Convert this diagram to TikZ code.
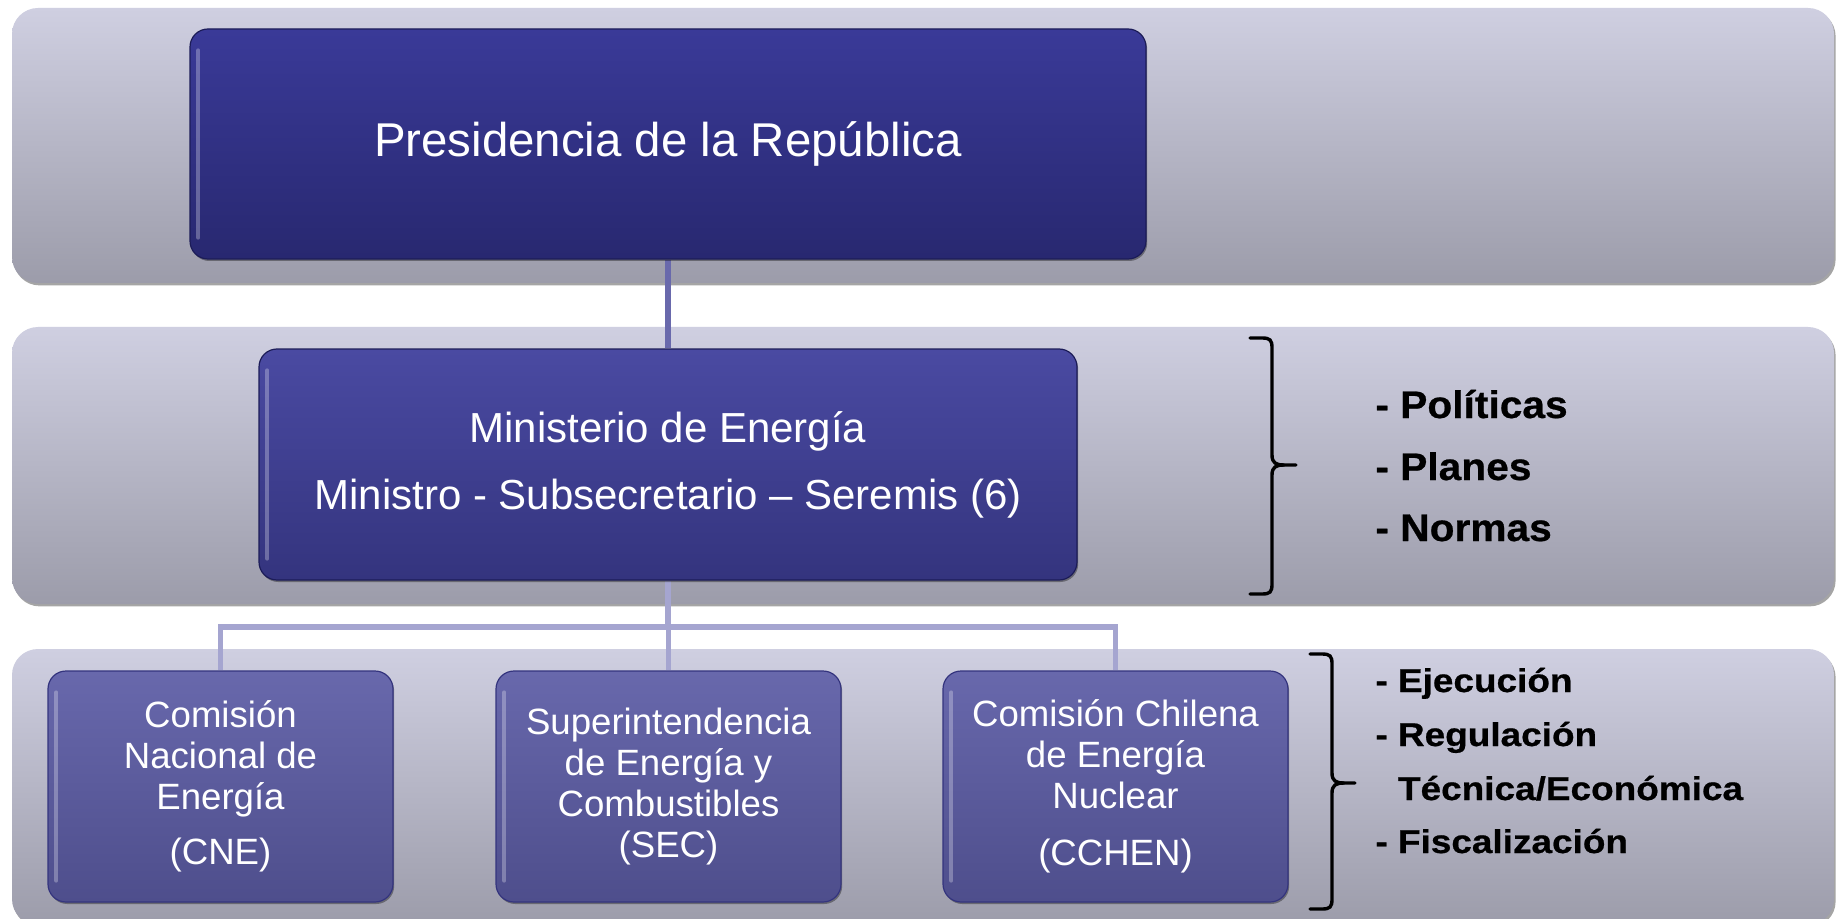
\documentclass[tikz,border=0pt]{standalone}
\usepackage{fontspec}
\setmainfont{Liberation Sans}
\newfontfamily\listA[FakeStretch=1.06,FakeBold=0.6]{Liberation Sans}
\newfontfamily\listB[FakeStretch=1.12,FakeBold=0.6]{Liberation Sans}
\usetikzlibrary{calc,shadows}
\definecolor{bandtop}{RGB}{207,207,225}
\definecolor{bandbot}{RGB}{156,156,170}
\definecolor{presT}{RGB}{58,58,152}
\definecolor{presB}{RGB}{40,40,112}
\definecolor{presD}{RGB}{28,28,88}
\definecolor{minT}{RGB}{74,74,162}
\definecolor{minB}{RGB}{52,52,126}
\definecolor{subT}{RGB}{104,104,172}
\definecolor{subB}{RGB}{78,78,140}
\definecolor{connA}{RGB}{105,105,172}
\definecolor{connB}{RGB}{165,165,208}
\pgfdeclarelayer{bandlayer}
\pgfdeclarelayer{connlayer}
\pgfsetlayers{bandlayer,connlayer,main}
\begin{document}
\begin{tikzpicture}[x=0.5pt,y=-0.5pt,
  band/.style={rectangle, rounded corners=13pt, top color=bandtop, bottom color=bandbot,
    draw=none, inner sep=0pt, minimum width=911pt,
    drop shadow={shadow xshift=0.8pt, shadow yshift=-1.2pt, opacity=0.5, fill=black!70}},
  orgbox/.style={rectangle, rounded corners=9pt, inner sep=0pt, text=white, align=center,
    line width=0.6pt,
    drop shadow={shadow xshift=0.6pt, shadow yshift=-1pt, opacity=0.35, fill=black}},
  presbox/.style={orgbox, top color=presT, bottom color=presB, draw=presD,
    minimum width=478pt, minimum height=115pt, font=\fontsize{23.7}{28}\selectfont},
  minbox/.style={orgbox, top color=minT, bottom color=minB, draw=presD,
    minimum width=409pt, minimum height=115.5pt, font=\fontsize{21}{33.5}\selectfont},
  subbox/.style={orgbox, top color=subT, bottom color=subB, draw=minB,
    minimum width=172.5pt, minimum height=115.5pt, font=\fontsize{18.3}{20.5}\selectfont},
  hilite/.style={line width=2pt, line cap=round, draw=white, opacity=0.28},
  connerA/.style={draw=connA, line width=3pt},
  connerB/.style={draw=connB, line width=2.8pt},
  brk/.style={draw=black, line width=1.7pt, line cap=round},
  listone/.style={anchor=base west, inner sep=0pt, font=\listA\bfseries\fontsize{19.2}{22}\selectfont},
  listtwo/.style={anchor=base west, inner sep=0pt, font=\listB\bfseries\fontsize{16.5}{18}\selectfont}
]
\useasboundingbox (0,0) rectangle (1839,919);
\clip (0,0) rectangle (1839,919);

\begin{pgfonlayer}{bandlayer}
  \fill[white] (0,0) rectangle (1839,919);
  \node[band, minimum height=137.5pt] (bandA) at (923,145.5) {};
  \node[band, minimum height=138.5pt] (bandB) at (923,465.5) {};
  \node[band, minimum height=138pt] (bandC) at (923,787) {};
\end{pgfonlayer}

% boxes
\node[presbox] (pres) at (668,144) {Presidencia de la República};
\node[minbox] (min) at (668,464.5) {Ministerio de Energía\\Ministro - Subsecretario -- Seremis (6)};
\node[subbox] (cne) at (220.5,786.5) {Comisión\\Nacional de\\Energía\\[7pt](CNE)};
\node[subbox] (sec) at (668.5,786.5) {Superintendencia\\de Energía y\\Combustibles\\(SEC)};
\node[subbox] (cchen) at (1115.5,786.5) {Comisión Chilena\\de Energía\\Nuclear\\[8pt](CCHEN)};

% glossy left highlights
\foreach \b in {pres,min,cne,sec,cchen}{
  \draw[hilite] ($(\b.north west)+(9,22)$) -- ($(\b.south west)+(9,-22)$);
}

% connectors
\coordinate (bus) at (668,627);
\begin{pgfonlayer}{connlayer}
  \draw[connerA] (pres.south) -- (min.north);
  \draw[connerB] (min.south) -- (bus);
  \draw[connerB] (cne.north) |- (bus) -| (cchen.north);
  \draw[connerB] (sec.north) -- (sec.north |- bus);
\end{pgfonlayer}

% brackets
\draw[brk] (1250,338) -- (1262,338) .. controls (1270,338) and (1272,340) .. (1272,348)
  -- (1272,455) .. controls (1272,463) and (1276,465) .. (1284,465) -- (1296,465);
\draw[brk] (1284,465) .. controls (1276,465) and (1272,467) .. (1272,475)
  -- (1272,584) .. controls (1272,592) and (1270,594) .. (1262,594) -- (1250,594);

\draw[brk] (1310,654) -- (1322,654) .. controls (1330,654) and (1332,656) .. (1332,664)
  -- (1332,773) .. controls (1332,781) and (1336,783) .. (1344,783) -- (1355,783);
\draw[brk] (1344,783) .. controls (1336,783) and (1332,785) .. (1332,793)
  -- (1332,899) .. controls (1332,907) and (1330,909) .. (1322,909) -- (1310,909);

% lists
\node[listone] (pol) at (1375,418) {- Políticas};
\node[listone] (pla) at (1375,480) {- Planes};
\node[listone] (nor) at (1375,541) {- Normas};

\node[listtwo] (eje) at (1375,692) {- Ejecución};
\node[listtwo] (reg) at (1375,746) {- Regulación};
\node[listtwo] (tec) at (1375,800) {\phantom{- }Técnica/Económica};
\node[listtwo] (fis) at (1375,853) {- Fiscalización};
\end{tikzpicture}
\end{document}
